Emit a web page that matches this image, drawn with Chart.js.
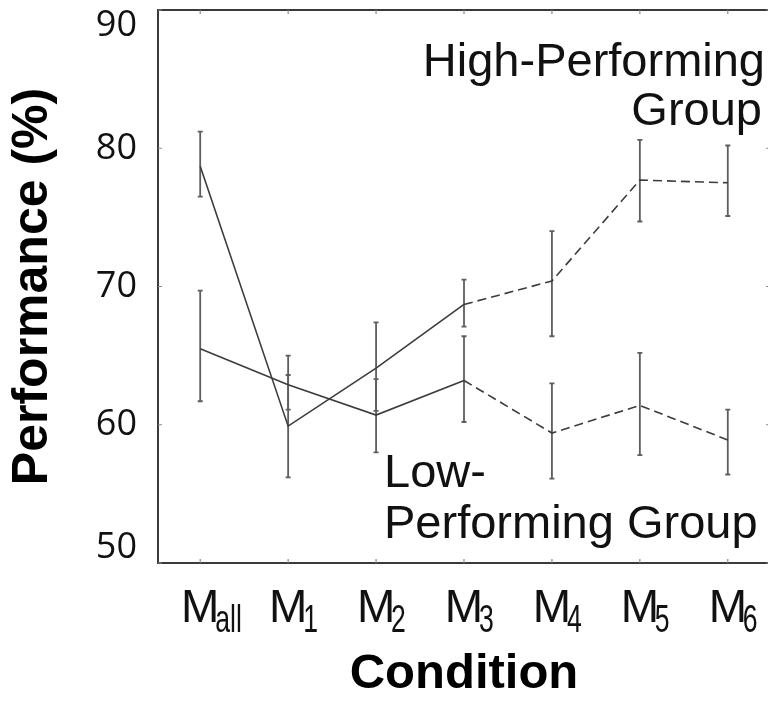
<!DOCTYPE html>
<html>
<head>
<meta charset="utf-8">
<script src="https://cdn.jsdelivr.net/npm/chart.js@4.4.1/dist/chart.umd.min.js"></script>
<style>
  html, body { margin: 0; padding: 0; background: #fff; overflow: hidden; }
  #wrap { width: 772px; height: 702px; }
</style>
</head>
<body>
<div id="wrap"><canvas id="c" width="772" height="702"></canvas></div>
<script>
// ---- data ----
const conditionPrefix = 'M';
const conditionSubscripts = ['all', '1', '2', '3', '4', '5', '6'];
const yTicks = [50, 60, 70, 80, 90];

const highMean = [78.7, 59.9, 64.1, 68.7, 70.4, 77.7, 77.5];
const highLow  = [76.5, 56.2, 61.0, 67.1, 66.4, 74.7, 75.1];
const highHigh = [81.2, 65.0, 67.4, 70.5, 74.0, 80.6, 80.2];

const lowMean = [65.5, 62.9, 60.7, 63.2, 59.4, 61.4, 58.9];
const lowLow  = [61.7, 61.1, 58.0, 60.2, 56.1, 57.8, 56.4];
const lowHigh = [69.7, 63.6, 63.3, 66.4, 63.0, 65.2, 61.1];

const dashedFrom = 3; // segments after M3 are dashed

const groupLabels = {
  high: ['High-Performing', 'Group'],
  low: ['Low-', 'Performing Group']
};

// ---- build datasets ----
function toPoints(arr) { return arr.map((v, i) => ({ x: i, y: v })); }

const lineColor = '#3c3c3c';
const errColor = '#5e5e5e';
const SANS = "'Liberation Sans', Arial, sans-serif";

const datasets = [
  { label: 'High-Performing Group', data: toPoints(highMean), errLow: highLow, errHigh: highHigh },
  { label: 'Low-Performing Group', data: toPoints(lowMean), errLow: lowLow, errHigh: lowHigh }
].map(d => Object.assign(d, {
  borderColor: lineColor,
  borderWidth: 1.6,
  pointRadius: 0,
  tension: 0,
  fill: false,
  segment: { borderDash: ctx => ctx.p0DataIndex >= dashedFrom ? [9, 5] : undefined }
}));

const decorPlugin = {
  id: 'decor',
  beforeDatasetsDraw(chart) {
    const { ctx, scales: { x, y } } = chart;
    ctx.save();
    ctx.strokeStyle = errColor;
    ctx.lineWidth = 1.8;
    chart.data.datasets.forEach(ds => {
      ds.data.forEach((p, i) => {
        const px = x.getPixelForValue(p.x);
        const y1 = y.getPixelForValue(ds.errLow[i]);
        const y2 = y.getPixelForValue(ds.errHigh[i]);
        ctx.beginPath();
        ctx.moveTo(px, y1); ctx.lineTo(px, y2);
        ctx.moveTo(px - 2.5, y1); ctx.lineTo(px + 2.5, y1);
        ctx.moveTo(px - 2.5, y2); ctx.lineTo(px + 2.5, y2);
        ctx.stroke();
      });
    });
    ctx.restore();
  },
  afterDraw(chart) {
    const { ctx, chartArea: a, scales: { x, y } } = chart;
    ctx.save();
    // frame
    ctx.strokeStyle = '#3a3a3a';
    ctx.lineWidth = 2;
    ctx.strokeRect(a.left, a.top, a.right - a.left, a.bottom - a.top);
    // inward tick marks
    ctx.strokeStyle = '#8a8a8a';
    ctx.lineWidth = 1.2;
    ctx.beginPath();
    conditionSubscripts.forEach((s, i) => {
      const px = x.getPixelForValue(i);
      ctx.moveTo(px, a.bottom); ctx.lineTo(px, a.bottom - 4);
      ctx.moveTo(px, a.top); ctx.lineTo(px, a.top + 4);
    });
    yTicks.forEach(v => {
      const py = y.getPixelForValue(v);
      ctx.moveTo(a.left, py); ctx.lineTo(a.left + 4, py);
      ctx.moveTo(a.right, py); ctx.lineTo(a.right - 4, py);
    });
    ctx.stroke();

    // y tick labels (clamped inside the plot height)
    ctx.fillStyle = '#111';
    ctx.font = "36px 'Open Sans', sans-serif";
    ctx.textAlign = 'right';
    ctx.textBaseline = 'middle';
    yTicks.forEach(v => {
      let py = y.getPixelForValue(v);
      py = Math.max(a.top + 16, Math.min(a.bottom - 15, py));
      ctx.fillText(String(v), a.left - 21, py);
    });

    // x tick labels: M with subscript
    ctx.textBaseline = 'alphabetic';
    conditionSubscripts.forEach((s, i) => {
      const px = x.getPixelForValue(i);
      ctx.font = '46px ' + SANS;
      ctx.textAlign = 'center';
      ctx.fillText(conditionPrefix, px, a.bottom + 59);
      ctx.save();
      ctx.translate(px + 15, a.bottom + 69);
      ctx.scale(0.7, 1);
      ctx.font = '38px ' + SANS;
      ctx.textAlign = 'left';
      ctx.fillText(s, 0, 0);
      ctx.restore();
    });

    // group annotations
    ctx.font = '47px ' + SANS;
    ctx.fillStyle = '#111';
    ctx.textAlign = 'right';
    ctx.fillText(groupLabels.high[0], 765, 76);
    ctx.fillText(groupLabels.high[1], 762, 125);
    ctx.textAlign = 'left';
    ctx.fillText(groupLabels.low[0], 384, 487);
    ctx.fillText(groupLabels.low[1], 384, 538);
    ctx.restore();
  }
};

new Chart(document.getElementById('c'), {
  type: 'line',
  data: { datasets },
  options: {
    responsive: false,
    animation: false,
    layout: { padding: { left: 0, top: 10, right: 2, bottom: 0 } },
    plugins: { legend: { display: false }, tooltip: { enabled: false } },
    scales: {
      x: {
        type: 'linear',
        min: -0.48,
        max: 6.48,
        grid: { display: false },
        border: { display: false },
        ticks: { display: false },
        title: {
          display: true,
          text: 'Condition',
          color: '#000',
          font: { family: SANS, size: 49, weight: 'bold', lineHeight: 1 },
          padding: { top: 0, bottom: 3 }
        },
        afterFit(scale) { scale.height = 139; }
      },
      y: {
        min: 50,
        max: 90,
        grid: { display: false },
        border: { display: false },
        ticks: { display: false, stepSize: 10 },
        title: {
          display: true,
          text: 'Performance (%)',
          color: '#000',
          font: { family: SANS, size: 50, weight: 'bold', lineHeight: 1 },
          padding: { top: 8, bottom: 0 }
        },
        afterFit(scale) { scale.width = 158; }
      }
    }
  },
  plugins: [decorPlugin]
});
</script>
</body>
</html>
